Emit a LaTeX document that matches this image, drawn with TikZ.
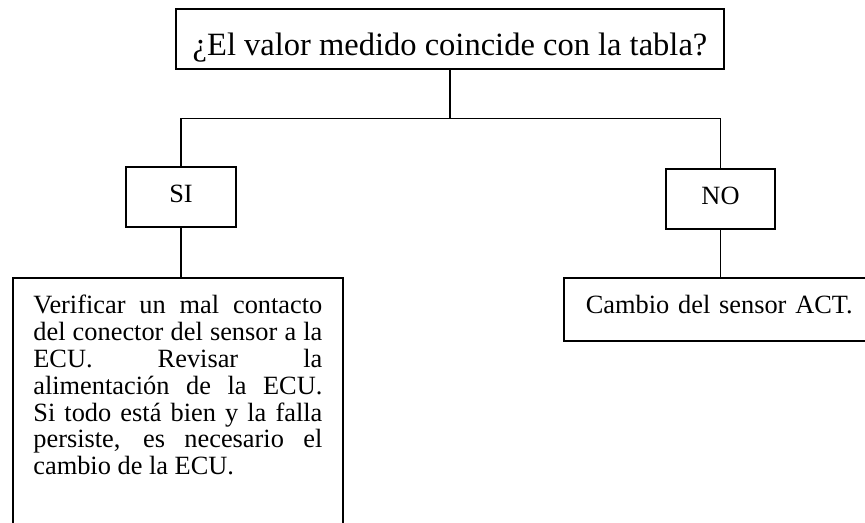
\documentclass[tikz,border=0pt]{standalone}
\usepackage{fontspec}
\setmainfont{Liberation Serif}
\usetikzlibrary{positioning}
\hyphenpenalty=10000
\tolerance=9999

\begin{document}
\begin{tikzpicture}[
    box/.style={draw, line width=1pt, inner ysep=0pt,
                font=\fontsize{15}{15.25}\selectfont},
    link/.style={line width=0.8pt}]
  \useasboundingbox (0,0) rectangle (17.3,10.46);
  \clip (0,0) rectangle (17.3,10.46);

  \node[box, anchor=north, minimum width=10.96cm,
        text height=0.94cm, text depth=0.26cm,
        font=\fontsize{18.5}{22}\selectfont]
        (pregunta) at (9.0,10.30) {¿El valor medido coincide con la tabla?};
  \coordinate[below=0.98cm of pregunta] (rama);

  \node[box, anchor=north, minimum width=2.2cm,
        text height=0.72cm, text depth=0.48cm] (si) at (3.62,7.14) {SI};
  \node[box, anchor=north, minimum width=2.18cm,
        text height=0.72cm, text depth=0.48cm] (no) at (14.41,7.10) {NO};

  \node[box, anchor=north west, text width=5.78cm, inner xsep=0.41cm,
        align=justify, text height=0.72cm, text depth=5.5cm]
        (verificar) at (0.24,4.92)
        {Verificar un mal contacto\linebreak
         del conector del sensor a la\linebreak
         ECU. Revisar la\linebreak
         alimentación de la ECU.\linebreak
         Si todo está bien y la falla\linebreak
         persiste, es necesario el\linebreak
         cambio de la ECU.};
  \node[box, anchor=north west, text width=5.8cm, inner xsep=0.44cm,
        align=left, text height=0.72cm, text depth=0.54cm]
        (cambio) at (11.26,4.92) {Cambio del sensor ACT.};

  \draw[link] (pregunta.south) -- (rama);
  \draw[link] (si.north) |- (rama) -| (no.north);
  \draw[link] (si.south) -- (si.south |- verificar.north);
  \draw[link] (no.south) -- (no.south |- cambio.north);
\end{tikzpicture}
\end{document}
